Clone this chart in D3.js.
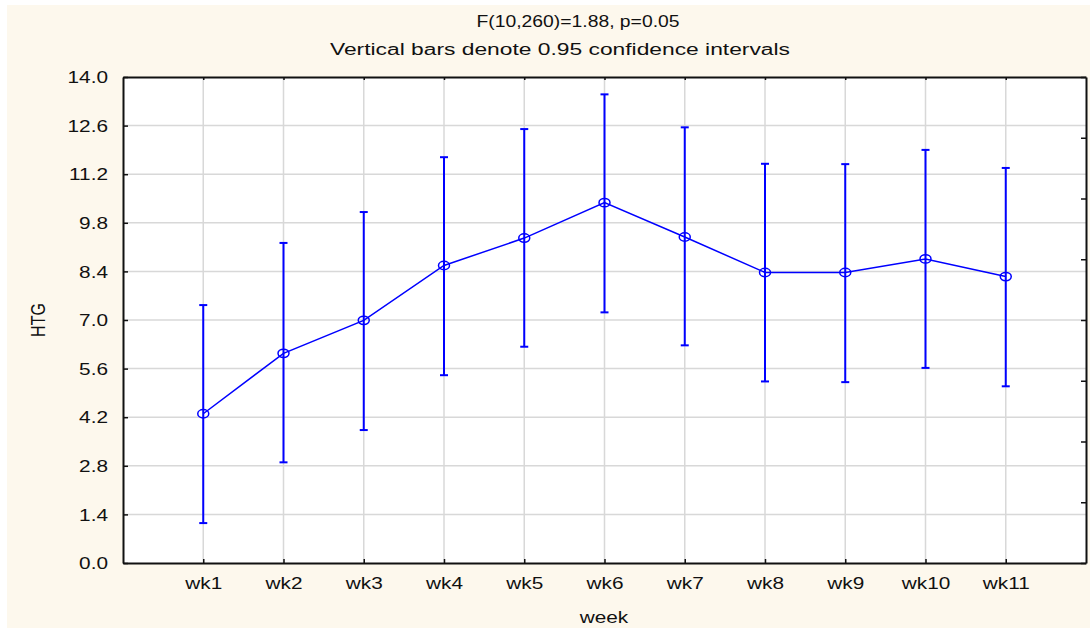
<!DOCTYPE html>
<html>
<head>
<meta charset="utf-8">
<script src="https://cdn.jsdelivr.net/npm/d3@7"></script>
<style>
  body { margin: 0; background: #fff; }
  text { font-family: "Liberation Sans", Arial, sans-serif; font-size: 16px; fill: #111; }
</style>
</head>
<body>
<div id="chart"></div>
<script>
// categories and the means with 0.95 CI ends
var weeks = ["wk1", "wk2", "wk3", "wk4", "wk5", "wk6", "wk7", "wk8", "wk9", "wk10", "wk11"];
var means = [4.30, 6.04, 6.99, 8.57, 9.36, 10.38, 9.39, 8.37, 8.37, 8.76, 8.25];
var upper = [7.43, 9.22, 10.11, 11.69, 12.50, 13.50, 12.55, 11.50, 11.49, 11.90, 11.38];
var lower = [1.15, 2.90, 3.83, 5.41, 6.23, 7.22, 6.27, 5.23, 5.21, 5.62, 5.09];
var yTicks = [0.0, 1.4, 2.8, 4.2, 5.6, 7.0, 8.4, 9.8, 11.2, 12.6, 14.0];
var titleLines = ["F(10,260)=1.88, p=0.05", "Vertical bars denote 0.95 confidence intervals"];

var W = 1090, H = 628;
var plot = {left: 123, top: 77, right: 1086, bottom: 563};
var stretch = 1.3;   // the reference text is wide, as if scaled horizontally

var svg = d3.select('#chart').append('svg')
    .attr('width', W)
    .attr('height', H);

// cream panel
svg.append('rect')
    .attr('x', 7).attr('y', 5)
    .attr('width', W - 7).attr('height', H - 5)
    .attr('fill', '#fdf8ed');

svg.append('rect')
    .attr('x', plot.left).attr('y', plot.top)
    .attr('width', plot.right - plot.left).attr('height', plot.bottom - plot.top)
    .attr('fill', '#fff');

var x = d3.scalePoint().domain(weeks).range([plot.left, plot.right]).padding(1);
var y = d3.scaleLinear().domain([0, 14]).range([plot.bottom, plot.top]);

function wideText(sel, tx, ty, extra) {
    return sel.attr('transform', 'translate(' + tx + ',' + ty + ') scale(' + stretch + ',1)' + (extra || ''));
}

// grid
svg.append('g').selectAll('line.h')
    .data(yTicks.slice(1, -1))
    .enter().append('line')
    .attr('x1', plot.left).attr('x2', plot.right)
    .attr('y1', d => y(d)).attr('y2', d => y(d))
    .attr('stroke', '#d8d8d8').attr('stroke-width', 1.5);

svg.append('g').selectAll('line.v')
    .data(weeks)
    .enter().append('line')
    .attr('x1', d => x(d)).attr('x2', d => x(d))
    .attr('y1', plot.top).attr('y2', plot.bottom)
    .attr('stroke', '#d8d8d8').attr('stroke-width', 1.5);

// left axis
var yAxis = svg.append('g')
    .attr('transform', 'translate(' + plot.left + ',0)')
    .call(d3.axisLeft(y).tickValues(yTicks).tickFormat(d3.format('.1f')).tickSize(-5).tickSizeOuter(0));
yAxis.select('.domain').attr('stroke', '#111').attr('stroke-width', 2);
yAxis.selectAll('.tick line').attr('stroke', '#111').attr('stroke-width', 1.5);
yAxis.selectAll('.tick text')
    .attr('x', 0).attr('dy', '0.35em')
    .attr('fill', '#111')
    .style('font-size', '16px').style('font-family', '"Liberation Sans", Arial, sans-serif')
    .attr('text-anchor', 'end')
    .each(function() { wideText(d3.select(this), -15, 0); });

// bottom axis
var xAxis = svg.append('g')
    .attr('transform', 'translate(0,' + plot.bottom + ')')
    .call(d3.axisBottom(x).tickSize(-4).tickSizeOuter(0));
xAxis.select('.domain').attr('stroke', '#111').attr('stroke-width', 2);
xAxis.selectAll('.tick line').attr('stroke', '#111').attr('stroke-width', 1.5);
xAxis.selectAll('.tick text')
    .attr('y', 0).attr('dy', 0)
    .attr('fill', '#111')
    .style('font-size', '16px').style('font-family', '"Liberation Sans", Arial, sans-serif')
    .each(function() { wideText(d3.select(this), 0, 26); });

// top and right frame with inward ticks
var topAxis = svg.append('g')
    .attr('transform', 'translate(0,' + plot.top + ')')
    .call(d3.axisTop(x).tickSize(-3).tickSizeOuter(0).tickFormat(''));
topAxis.select('.domain').attr('stroke', '#111').attr('stroke-width', 2);
topAxis.selectAll('.tick line').attr('stroke', '#111').attr('stroke-width', 1.5);

var yRight = d3.scaleLinear().domain([0, 8]).range([plot.bottom, plot.top]);
var rightAxis = svg.append('g')
    .attr('transform', 'translate(' + plot.right + ',0)')
    .call(d3.axisRight(yRight).ticks(8).tickSize(-5).tickSizeOuter(0).tickFormat(''));
rightAxis.select('.domain').attr('stroke', '#111').attr('stroke-width', 2);
rightAxis.selectAll('.tick line').attr('stroke', '#111').attr('stroke-width', 1.5);

// confidence bars
var bars = svg.append('g').attr('stroke', '#0000ff').attr('stroke-width', 2);
bars.selectAll('line.bar')
    .data(weeks)
    .enter().append('line')
    .attr('x1', d => x(d)).attr('x2', d => x(d))
    .attr('y1', (d, i) => y(upper[i])).attr('y2', (d, i) => y(lower[i]));
bars.selectAll('line.capU')
    .data(weeks)
    .enter().append('line')
    .attr('x1', d => x(d) - 4).attr('x2', d => x(d) + 4)
    .attr('y1', (d, i) => y(upper[i])).attr('y2', (d, i) => y(upper[i]));
bars.selectAll('line.capL')
    .data(weeks)
    .enter().append('line')
    .attr('x1', d => x(d) - 4).attr('x2', d => x(d) + 4)
    .attr('y1', (d, i) => y(lower[i])).attr('y2', (d, i) => y(lower[i]));

// mean line and markers
var meanLine = d3.line()
    .x((d, i) => x(weeks[i]))
    .y(d => y(d));
svg.append('path')
    .datum(means)
    .attr('d', meanLine)
    .attr('fill', 'none')
    .attr('stroke', '#0000ff')
    .attr('stroke-width', 1.5);

svg.append('g').selectAll('ellipse')
    .data(means)
    .enter().append('ellipse')
    .attr('cx', (d, i) => x(weeks[i]))
    .attr('cy', d => y(d))
    .attr('rx', 5.5).attr('ry', 4.2)
    .attr('fill', 'none')
    .attr('stroke', '#0000ff')
    .attr('stroke-width', 1.5);

// titles: fitted to the widths seen in the reference
var titlePos = [{cx: 578, y: 27, w: 203}, {cx: 560, y: 55, w: 460}];
svg.selectAll('text.title')
    .data(titleLines)
    .enter().append('text')
    .attr('class', 'title')
    .attr('text-anchor', 'middle')
    .attr('x', (d, i) => titlePos[i].cx)
    .attr('y', (d, i) => titlePos[i].y)
    .attr('textLength', (d, i) => titlePos[i].w)
    .attr('lengthAdjust', 'spacingAndGlyphs')
    .text(d => d);

wideText(svg.append('text').attr('text-anchor', 'middle').text('week'), 604, 623);
wideText(svg.append('text').attr('text-anchor', 'middle').attr('dy', '0.35em').text('HTG'), 38, 320, ' rotate(-90)');
</script>
</body>
</html>
